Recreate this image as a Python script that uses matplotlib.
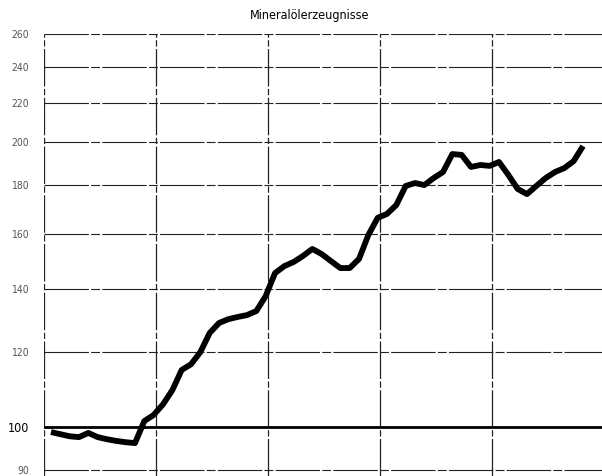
import numpy as np
import matplotlib
matplotlib.use("Agg")
import matplotlib.pyplot as plt

# Index (log scale), monthly values
titel = "Mineralölerzeugnisse"
werte = [98.8, 98.3, 97.8, 97.6, 98.6, 97.6, 97.1, 96.7, 96.4, 96.2,
         101.5, 103.0, 105.7, 109.4, 114.9, 116.5, 120.0, 125.7, 128.8, 130.0,
         130.7, 131.3, 132.6, 137.5, 145.4, 147.9, 149.4, 151.6, 154.2, 152.3,
         149.7, 147.2, 147.2, 150.5, 159.5, 166.3, 167.9, 171.6, 179.7, 181.0,
         180.1, 183.2, 185.9, 194.2, 193.8, 188.2, 189.1, 188.7, 190.5, 184.6,
         178.4, 176.2, 179.7, 183.2, 185.9, 187.7, 190.9, 198.0]
y_ticks = [90, 100, 120, 140, 160, 180, 200, 220, 240, 260]
jahre = [0, 1, 2, 3, 4, 5]

monat = (np.arange(len(werte)) + 0.75) / 12.0

fig = plt.figure(figsize=(6.02, 4.76), dpi=100)
ax = fig.add_axes([44 / 602, 0.0, 560 / 602, 442 / 476])

ax.set_yscale("log")
ax.set_xlim(0, 5)
ax.set_ylim(88.8, 260)

# gitter (wie im scan, duenne linien mit kleinen luecken)
for y in y_ticks:
    ax.axhline(y, color="#222222", lw=0.8, ls=(0, (40, 2, 8, 2)), zorder=1)
for x in jahre:
    ax.axvline(x, color="#222222", lw=0.9, ls=(0, (30, 2, 5, 2)), zorder=1)
ax.axhline(100, color="black", lw=2.0, zorder=2)

ax.plot(monat, werte, color="black", lw=4.2, solid_capstyle="butt",
        solid_joinstyle="round", zorder=3)

ax.set_yticks(y_ticks)
ax.set_yticklabels([str(v) for v in y_ticks])
ax.yaxis.set_minor_locator(matplotlib.ticker.NullLocator())
ax.set_xticks([])
ax.tick_params(axis="y", length=0, pad=11)
for lab in ax.get_yticklabels():
    lab.set_family("DejaVu Sans")
    lab.set_stretch("condensed")
    if lab.get_text() == "100":
        lab.set_fontsize(9)
        lab.set_color("black")
    else:
        lab.set_fontsize(7.5)
        lab.set_color("#555555")

for s in ax.spines.values():
    s.set_visible(False)

fig.text(310 / 602, 1 - 15 / 476, titel, ha="center", va="center",
         fontsize=9, family="DejaVu Sans", stretch="condensed")

fig.savefig("out.png", dpi=100)
